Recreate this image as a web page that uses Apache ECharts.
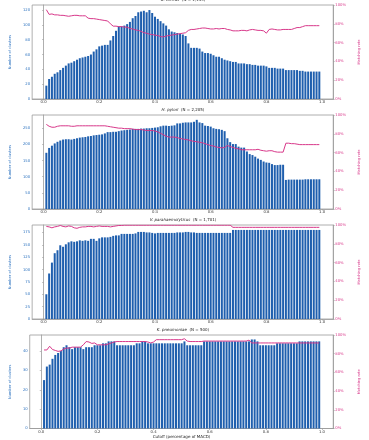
<!DOCTYPE html>
<html>
<head>
<meta charset="utf-8">
<script src="https://cdn.jsdelivr.net/npm/echarts@6/dist/echarts.min.js"></script>
<style>
  html, body { margin: 0; padding: 0; background: #fff; }
  #chart { width: 369px; height: 440px; }
</style>
</head>
<body>
<div id="chart"></div>
<script>
const cutoffs = [0.01,0.02,0.03,0.04,0.05,0.06,0.07,0.08,0.09,0.10,
  0.11,0.12,0.13,0.14,0.15,0.16,0.17,0.18,0.19,0.20,
  0.21,0.22,0.23,0.24,0.25,0.26,0.27,0.28,0.29,0.30,
  0.31,0.32,0.33,0.34,0.35,0.36,0.37,0.38,0.39,0.40,
  0.41,0.42,0.43,0.44,0.45,0.46,0.47,0.48,0.49,0.50,
  0.51,0.52,0.53,0.54,0.55,0.56,0.57,0.58,0.59,0.60,
  0.61,0.62,0.63,0.64,0.65,0.66,0.67,0.68,0.69,0.70,
  0.71,0.72,0.73,0.74,0.75,0.76,0.77,0.78,0.79,0.80,
  0.81,0.82,0.83,0.84,0.85,0.86,0.87,0.88,0.89,0.90,
  0.91,0.92,0.93,0.94,0.95,0.96,0.97,0.98,0.99]

const species = ['B. cereus', 'H. pylori', 'V. parahaemolyticus', 'K. pneumoniae']
const sampleSizes = ['1,139', '2,205', '1,701', '500']

// number of clusters per cutoff
const bCereusCounts = [18,27,30,34,36,39,42,45,48,49,
  51,53,55,56,57,58,60,64,67,71,
  72,73,73,79,85,92,98,98,99,101,
  104,109,112,117,118,119,117,120,116,111,
  108,105,102,99,94,91,90,89,88,87,
  85,75,69,69,69,68,64,62,62,61,
  59,57,57,55,53,52,51,50,50,48,
  48,48,47,47,46,46,45,45,45,44,
  42,42,42,41,41,41,39,39,39,39,
  39,38,38,37,37,37,37,37,37]
const hPyloriCounts = [174,189,196,203,208,212,215,216,216,215,
  217,219,221,222,223,225,226,228,229,230,
  231,234,238,238,239,239,241,243,244,245,
  246,248,248,248,249,249,250,250,251,252,
  253,256,258,258,257,258,259,265,265,267,
  268,268,268,270,276,268,266,258,257,255,
  250,248,247,245,241,219,207,201,201,193,
  190,190,178,170,167,162,156,152,147,144,
  143,139,136,136,137,137,90,91,91,91,
  91,91,91,92,92,92,92,92,92]
const vParaCounts = [50,92,114,133,139,149,146,151,155,157,
  156,157,159,158,159,158,162,162,158,163,
  165,165,165,166,168,169,169,172,172,172,
  172,172,173,176,176,176,175,175,174,173,
  174,174,174,174,174,174,174,175,175,175,
  176,176,175,175,174,174,174,174,174,174,
  174,174,174,174,174,174,174,180,180,180,
  180,180,180,180,180,180,180,180,180,180,
  180,180,180,180,180,180,180,180,180,180,
  180,180,180,180,180,180,180,180,180]
const kPneuCounts = [25,32,33,36,38,39,40,42,43,42,
  41,42,42,42,41,42,42,42,43,43,
  43,44,44,45,45,45,43,43,43,43,
  43,43,43,44,44,45,45,44,44,44,
  44,44,44,44,44,44,44,44,44,44,
  45,43,43,43,43,43,43,45,45,45,
  45,45,45,45,45,45,45,45,45,45,
  45,45,45,45,46,46,45,43,43,43,
  43,43,43,44,44,44,44,44,44,44,
  44,45,45,45,45,45,45,45,45]

// matching rate (%) per cutoff
const bCereusRate = [95,90,90.5,89.5,89.5,89,89,88.5,88,88.5,
  89,89,88.5,88.5,88.5,86,85.5,85.5,85,84.5,
  84,83.5,83,80,77.5,77.5,77,77,76.5,76.5,
  75,74.5,73.5,73,72,70.5,70,69,68.5,68,
  67.5,66.5,66,67,67.5,68,68.5,69,69.5,70,
  70.5,73,74,74,74.5,75,75.5,75.5,75,74.5,
  74.5,75,74.5,75,75,74,73.5,72.5,72.5,72.5,
  73,73,72.5,73.5,74,73.5,73,73,72.5,70,
  74,74.5,74,73.5,73.5,74,74,74,74,75,
  76,76,77,78,78,78,78,78,78]
const hPyloriRate = [90,88,87,87,88,88.5,88.5,88.5,88.5,88,
  88,88.5,88.5,88.5,88.5,88.5,88.5,88.5,88.5,88.5,
  88.5,88.5,88,87.5,87,86.5,86,86,85.5,85.5,
  85.5,85,84.5,84.5,84.5,84,83.5,83.5,83.5,83,
  82,80.5,79,77.5,76.5,76.5,76.5,76,75,74.5,
  74,73.5,72.5,72,71.5,71,70.5,69.5,68.5,67.5,
  67,66,65.5,65,65.5,67.5,66.5,65.5,64.5,64,
  63,63,63,63,63,63,63.5,62.5,62,61.5,
  62,62,61,60.5,60.5,60.5,70,70,69.5,69.5,
  69,68.5,68.5,68.5,68.5,68.5,68.5,68.5,68.5]
const vParaRate = [98.5,98,97,98,98.5,99.5,98.5,98,99,98.5,
  97,96.5,97.5,98,98,98.5,98.5,98,98.5,99,
  98.5,98.5,98.5,98,98.5,99,99.5,99.5,99.8,99.8,
  99.8,99.8,99.8,99.8,99.8,99.8,99.8,99.8,99.8,99.8,
  99.8,99.8,99.8,99.8,99.8,99.8,99.8,99.8,99.8,99.8,
  99.8,99.8,99.8,99.8,99.8,99.8,99.8,99.8,99.8,99.8,
  99.8,99.8,99.8,99.8,99.8,99.8,99.8,97.5,97.5,97.5,
  97.5,97.5,97.5,97.5,97.5,97.5,97.5,97.5,97.5,97.5,
  97.5,97.5,97.5,97.5,97.5,97.5,97.5,97.5,97.5,97.5,
  97.5,97.5,97.5,97.5,97.5,97.5,97.5,97.5,97.5]
const kPneuRate = [84,84,88,84.5,83.5,82.5,83,85,86,86,
  87,87,87,87,89.5,93,92.5,91,91.5,89.5,
  89.5,89.5,89.5,90.5,91.5,92.5,93,93,93,93,
  93,93,93,93,93,93,93,92.5,91.5,92.5,
  95,95,95,95,95,95,95,95,95,95,
  96,93.5,93,93,93,93,93,93.5,93.5,93.5,
  93.5,93.5,93.5,93.5,93.5,93.5,93.5,93.5,93.5,93.5,
  93.5,93.5,93.5,94.5,91.5,91.5,91.5,91.5,91.5,91.5,
  91.5,91.5,91.5,91.5,91.5,91.5,91.5,91.5,91.5,91.5,
  91.5,91.5,91.5,91.5,91.5,91.5,91.5,91.5,91.5]

const counts = [bCereusCounts, hPyloriCounts, vParaCounts, kPneuCounts]
const rates = [bCereusRate, hPyloriRate, vParaRate, kPneuRate]

// tick labels
const xTicks = [0, 0.2, 0.4, 0.6, 0.8, 1.0]
const countTicks = [
  [0, 20, 40, 60, 80, 100, 120],
  [0, 50, 100, 150, 200, 250],
  [0, 25, 50, 75, 100, 125, 150, 175],
  [0, 10, 20, 30, 40],
]
const countMax = [126.8, 291, 190, 48.3]
const rateTicks = [0, 20, 40, 60, 80, 100]

const BLUE = '#1f5fae'
const BLUE_TEXT = '#2f74c0'
const PINK = '#d8388a'
const SPINE = '#9a9a9a'
const FONT = 'DejaVu Sans'

const panelTop = [5, 115, 225, 335]
const panelH = 94

const grid = [], xAxis = [], yAxis = [], series = [], title = []

counts.forEach((cnt, i) => {
  grid.push({
    left: 15.5, right: 18.3, top: panelTop[i], height: panelH,
    show: true, borderColor: SPINE, borderWidth: 0.8,
  })
  title.push({
    text: '{i|' + species[i] + '}  (N = ' + sampleSizes[i] + ')',
    left: 183, textAlign: 'center', top: panelTop[i] - 7, padding: 0,
    textStyle: {
      fontFamily: FONT, fontSize: 4, fontWeight: 'normal', color: '#222',
      rich: { i: { fontFamily: FONT, fontSize: 4, fontStyle: 'italic', color: '#222' } },
    },
  })
  xAxis.push({
    type: 'value', gridIndex: i, min: -0.041, max: 1.04,
    name: i === 3 ? 'Cutoff (percentage of MACD)' : '',
    nameLocation: 'middle', nameGap: 6.5,
    nameTextStyle: { fontFamily: FONT, fontSize: 4, color: '#222' },
    axisLine: { show: true, lineStyle: { color: SPINE, width: 0.8 } },
    axisTick: { show: true, length: 1.5, customValues: xTicks, lineStyle: { color: SPINE, width: 0.6 } },
    axisLabel: {
      customValues: xTicks, margin: 1.5, fontFamily: FONT, fontSize: 3.8, color: '#333',
      formatter: v => v.toFixed(1),
    },
    splitLine: { show: false },
  })
  yAxis.push({
    type: 'value', gridIndex: i, position: 'left', min: 0, max: countMax[i],
    name: 'Number of clusters', nameLocation: 'middle', nameGap: 10, nameRotate: 90,
    nameTextStyle: { fontFamily: FONT, fontSize: 3.6, color: BLUE_TEXT },
    axisLine: { show: true, lineStyle: { color: SPINE, width: 0.8 } },
    axisTick: { show: true, length: 1.5, customValues: countTicks[i], lineStyle: { color: SPINE, width: 0.6 } },
    axisLabel: { customValues: countTicks[i], margin: 2, fontFamily: FONT, fontSize: 3.8, color: BLUE_TEXT },
    splitLine: { show: false },
  })
  yAxis.push({
    type: 'value', gridIndex: i, position: 'right', min: 0, max: 100,
    name: 'Matching rate', nameLocation: 'middle', nameGap: 12, nameRotate: 90,
    nameTextStyle: { fontFamily: FONT, fontSize: 3.6, color: PINK },
    axisLine: { show: true, lineStyle: { color: SPINE, width: 0.8 } },
    axisTick: { show: true, length: 1.5, customValues: rateTicks, lineStyle: { color: SPINE, width: 0.6 } },
    axisLabel: { customValues: rateTicks, margin: 2, fontFamily: FONT, fontSize: 3.8, color: PINK, formatter: '{value}%' },
    splitLine: { show: false },
  })
  series.push({
    type: 'bar', xAxisIndex: i, yAxisIndex: i * 2,
    data: cnt.map((v, k) => [cutoffs[k], v]),
    barWidth: 2, itemStyle: { color: BLUE }, silent: true,
  })
  series.push({
    type: 'line', xAxisIndex: i, yAxisIndex: i * 2 + 1,
    data: rates[i].map((v, k) => [cutoffs[k], v]),
    symbol: 'none', lineStyle: { color: PINK, width: 1 }, z: 3, silent: true,
  })
})

const chart = echarts.init(document.getElementById('chart'))
chart.setOption({
  animation: false,
  backgroundColor: '#fff',
  title, grid, xAxis, yAxis, series,
})
</script>
</body>
</html>
